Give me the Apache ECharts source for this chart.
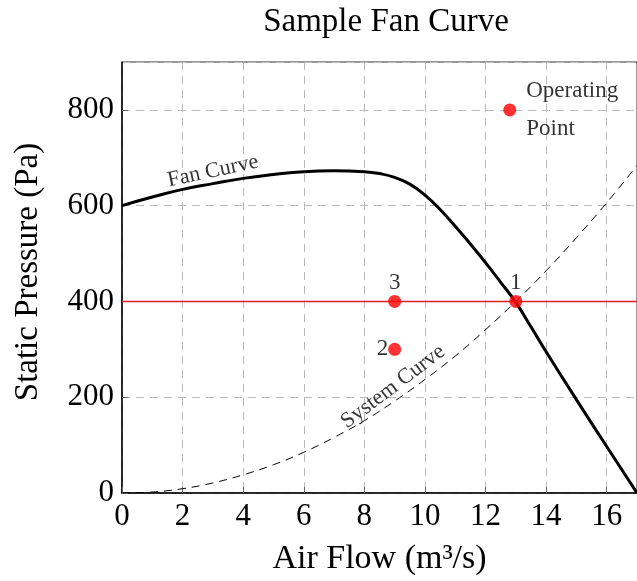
<!DOCTYPE html>
<html>
<head>
<meta charset="utf-8">
<script src="https://cdn.jsdelivr.net/npm/echarts@6/dist/echarts.min.js"></script>
<style>
  html, body { margin: 0; padding: 0; background: #fff; }
  #chart { width: 637px; height: 581px; }
</style>
</head>
<body>
<div id="chart"></div>
<script>
// values
const fanCurve = [
  [0, 600], [1, 618], [2, 634], [3, 646], [4, 657], [5, 665], [6, 671],
  [7, 673], [8, 671], [8.5, 667], [9, 659], [9.5, 645], [10, 622],
  [10.5, 592], [11, 557], [11.5, 520], [12, 481], [12.5, 440], [13, 398],
  [13.5, 347], [14, 295], [15, 195], [16, 97], [17, 0]
];
const systemCurve = [
  [0, 0], [1, 2], [2, 9], [3, 21], [4, 38], [5, 59], [6, 85], [7, 116],
  [8, 151], [9, 192], [10, 237], [11, 286], [12, 341], [13, 400],
  [14, 464], [15, 533], [16, 606], [17, 684]
];
const points = [
  { value: [13, 400], name: '1', pos: 'top' },
  { value: [9, 300], name: '2', pos: 'left' },
  { value: [9, 400], name: '3', pos: 'top' }
];
const operatingPoint = [12.8, 800];
const operatingLabel = 'Operating\nPoint';
const curveLabels = [
  { value: [3.0, 672], text: 'Fan Curve', rotate: 12 },
  { value: [8.95, 222], text: 'System Curve', rotate: 37 }
];
const refPressure = 400;

const FONT = 'Liberation Serif';
const chart = echarts.init(document.getElementById('chart'));

const option = {
  animation: false,
  textStyle: { fontFamily: FONT, color: '#000' },
  title: {
    text: 'Sample Fan Curve',
    left: 381,
    textAlign: 'center',
    top: 1,
    textStyle: { fontFamily: FONT, fontSize: 33, fontWeight: 'normal', color: '#000' }
  },
  grid: {
    left: 122, top: 62, width: 518, height: 431,
    show: true, borderColor: '#333', borderWidth: 1
  },
  xAxis: {
    type: 'value', min: 0, max: 17, interval: 2,
    name: 'Air Flow (m³/s)', nameLocation: 'middle', nameGap: 49,
    nameTextStyle: { fontFamily: FONT, fontSize: 34, color: '#000' },
    axisLine: { onZero: false, lineStyle: { color: '#000', width: 1.5 } },
    axisTick: { inside: true, length: 6, lineStyle: { color: '#666' } },
    axisLabel: { fontFamily: FONT, fontSize: 31, color: '#000', margin: 8,
      showMaxLabel: false },
    splitLine: { show: true, lineStyle: { color: '#bbb', type: [8, 6] } }
  },
  yAxis: {
    type: 'value', min: 0, max: 900, interval: 200,
    name: 'Static Pressure (Pa)', nameLocation: 'middle', nameGap: 77,
    nameTextStyle: { fontFamily: FONT, fontSize: 33, color: '#000', padding: [0, 0, 0, 11] },
    axisLine: { show: true, onZero: false, lineStyle: { color: '#000', width: 1.5 } },
    axisTick: { show: true, inside: true, length: 6, lineStyle: { color: '#666' } },
    axisLabel: { fontFamily: FONT, fontSize: 31, color: '#000', margin: 8,
      showMaxLabel: false },
    splitLine: { show: true, lineStyle: { color: '#bbb', type: [8, 6] } }
  },
  series: [
    {
      name: 'System Curve', type: 'line', data: systemCurve, smooth: 0.4,
      symbol: 'none',
      lineStyle: { color: '#000', width: 1, type: [8, 6] },
      z: 3
    },
    {
      name: 'Reference', type: 'line', data: [], color: '#e02020',
      markLine: {
        silent: true, symbol: 'none', label: { show: false },
        itemStyle: { color: '#e02020' },
        lineStyle: { color: '#e02020', width: 1.3, type: 'solid', opacity: 1 },
        emphasis: { disabled: true },
        data: [{ yAxis: refPressure }]
      },
      z: 2
    },
    {
      name: 'Fan Curve', type: 'line', data: fanCurve, smooth: 0.5,
      symbol: 'none',
      lineStyle: { color: '#000', width: 3 },
      z: 4
    },
    {
      type: 'scatter', symbolSize: 13, itemStyle: { color: '#ff0000' },
      data: points.map(p => ({
        value: p.value,
        label: { show: true, formatter: p.name, position: p.pos, distance: 0,
          fontFamily: FONT, fontSize: 23, color: '#000' }
      })),
      z: 5
    },
    {
      type: 'scatter', symbolSize: 13, itemStyle: { color: '#ff0000' },
      data: [{
        value: operatingPoint,
        label: { show: true, formatter: operatingLabel, position: 'right',
          distance: 10, fontFamily: FONT, fontSize: 23, lineHeight: 38, color: '#000' }
      }],
      z: 5
    },
    {
      type: 'scatter', symbolSize: 0, silent: true,
      data: curveLabels.map(c => ({
        value: c.value,
        label: { show: true, formatter: c.text, position: 'inside', rotate: c.rotate,
          fontFamily: FONT, fontSize: 22, color: '#000' }
      })),
      z: 6
    }
  ]
};

chart.setOption(option);
</script>
</body>
</html>
